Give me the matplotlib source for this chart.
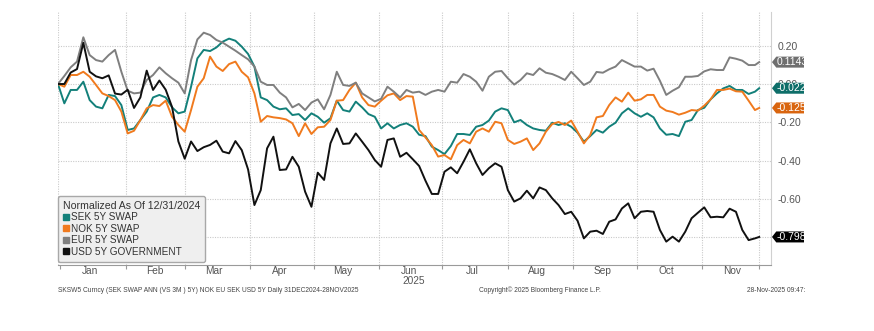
import numpy as np
import pandas as pd
import matplotlib
matplotlib.use('Agg')
import matplotlib.pyplot as plt
from matplotlib.lines import Line2D
from matplotlib.patches import Polygon

plt.rcParams['font.family'] = ['Liberation Sans', 'DejaVu Sans']

# sampled every 3 days from 31 Dec 2024, last point 28 Nov 2025
dates = list(pd.date_range('2024-12-31', periods=111, freq='3D')) + [pd.Timestamp('2025-11-28')]

sek = [0, -0.101, -0.031, -0.031, 0.012, -0.084, -0.118, -0.127, -0.057, -0.063, -0.110, -0.240,
       -0.232, -0.188, -0.144, -0.070, -0.057, -0.070, -0.122, -0.153, -0.144, -0.014, 0.134, 0.178,
       0.172, 0.191, 0.221, 0.237, 0.226, 0.195, 0.157, 0.091, -0.070, -0.084, -0.118, -0.132,
       -0.127, -0.162, -0.157, -0.188, -0.153, -0.171, -0.202, -0.179, -0.087, -0.136,
       -0.144, -0.092, -0.122, -0.157, -0.171, -0.232, -0.205, -0.232, -0.214, -0.205, -0.223,
       -0.265, -0.272, -0.327, -0.345, -0.366, -0.324, -0.261, -0.261, -0.266, -0.223, -0.214,
       -0.191, -0.144, -0.127, -0.136, -0.200, -0.188, -0.214, -0.232, -0.240, -0.244, -0.202,
       -0.214, -0.205, -0.223, -0.254, -0.301, -0.272, -0.240, -0.254, -0.223, -0.202, -0.153,
       -0.127, -0.153, -0.171, -0.153, -0.174, -0.232, -0.265, -0.261, -0.272, -0.197, -0.188,
       -0.136, -0.124, -0.080, -0.049, -0.023, -0.010, -0.031, -0.031, -0.052, -0.040, -0.022]

nok = [0, -0.014, 0.047, 0.047, 0.064, 0.038, -0.005, -0.049, -0.063, -0.084, -0.144, -0.258,
       -0.244, -0.188, -0.127, -0.110, -0.115, -0.087, -0.171, -0.214, -0.249, -0.136, -0.014, 0.030,
       0.143, 0.091, 0.068, 0.104, 0.117, 0.064, 0.035, -0.049, -0.197, -0.167, -0.174, -0.178,
       -0.185, -0.205, -0.272, -0.205, -0.261, -0.226, -0.223, -0.188, -0.087, -0.084,
       -0.031, 0.007, -0.070, -0.110, -0.118, -0.087, -0.059, -0.049, -0.084, -0.063, -0.066,
       -0.240, -0.279, -0.319, -0.379, -0.371, -0.393, -0.319, -0.292, -0.310, -0.249, -0.232,
       -0.249, -0.197, -0.205, -0.292, -0.313, -0.301, -0.284, -0.345, -0.310, -0.249, -0.209,
       -0.198, -0.214, -0.191, -0.249, -0.310, -0.266, -0.174, -0.167, -0.110, -0.070, -0.092,
       -0.045, -0.087, -0.080, -0.057, -0.057, -0.118, -0.139, -0.146, -0.160, -0.150, -0.136,
       -0.139, -0.113, -0.080, -0.031, -0.031, -0.024, -0.038, -0.040, -0.087, -0.136, -0.125]

eur = [0, 0.042, 0.087, 0.117, 0.244, 0.151, 0.125, 0.117, 0.151, 0.178, 0.064, -0.035,
       -0.049, -0.045, 0.021, 0.047, 0.087, 0.056, 0.030, 0.007, -0.049, 0.125, 0.233, 0.268,
       0.256, 0.230, 0.216, 0.195, 0.174, 0.151, 0.129, 0.091, 0.012, -0.005, -0.005, -0.045,
       -0.070, -0.122, -0.104, -0.136, -0.097, -0.080, -0.132, -0.057, 0.064, -0.005,
       -0.010, 0.007, -0.049, -0.070, -0.091, -0.077, -0.014, -0.040, -0.070, -0.031, -0.045,
       -0.040, -0.057, -0.040, -0.031, -0.040, 0.012, 0.007, 0.052, 0.038, 0.012, -0.035,
       0.038, 0.064, 0.068, 0.030, -0.003, 0.021, 0.056, 0.047, 0.082, 0.059, 0.052,
       0.038, 0.021, 0.064, 0.030, -0.005, 0.012, 0.063, 0.059, 0.077, 0.091, 0.125,
       0.108, 0.091, 0.091, 0.070, 0.080, 0.017, -0.057, -0.035, -0.017, 0.038, 0.038,
       0.042, 0.066, 0.077, 0.073, 0.073, 0.139, 0.132, 0.122, 0.099, 0.099, 0.1143]

usd = [0, 0.000, 0.060, 0.078, 0.215, 0.064, 0.040, 0.030, 0.045, -0.050, -0.055, -0.030,
       -0.125, -0.070, 0.070, -0.031, 0.018, -0.030, -0.120, -0.300, -0.390, -0.300, -0.350, -0.330,
       -0.318, -0.296, -0.353, -0.362, -0.298, -0.345, -0.446, -0.632, -0.554, -0.336, -0.275,
       -0.449, -0.446, -0.380, -0.432, -0.562, -0.641, -0.463, -0.501, -0.310, -0.232, -0.313,
       -0.310, -0.258, -0.301, -0.345, -0.397, -0.432, -0.292, -0.284, -0.380, -0.359, -0.393,
       -0.428, -0.505, -0.574, -0.574, -0.458, -0.435, -0.466, -0.406, -0.341, -0.414, -0.475,
       -0.440, -0.414, -0.432, -0.554, -0.614, -0.597, -0.557, -0.597, -0.540, -0.554, -0.597,
       -0.632, -0.679, -0.667, -0.714, -0.806, -0.771, -0.766, -0.783, -0.719, -0.707, -0.650,
       -0.623, -0.701, -0.667, -0.663, -0.667, -0.762, -0.823, -0.797, -0.823, -0.771, -0.701,
       -0.672, -0.644, -0.696, -0.693, -0.696, -0.651, -0.667, -0.762, -0.815, -0.806, -0.7985]

names = ['SEK 5Y SWAP', 'NOK 5Y SWAP', 'EUR 5Y SWAP', 'USD 5Y GOVERNMENT']
colors = ['#13807a', '#f07a1e', '#7f7f7f', '#111111']
tag_colors = ['#0e6e69', '#d9650f', '#6f6f6f', '#000000']
tag_text = ['-0.022', '-0.125', '0.1143', '-0.7985']
yticks = [0.2, 0.0, -0.2, -0.4, -0.6, -0.8]
ytick_labels = ['0.20', '0.00', '-0.20', '-0.40', '-0.60', '']  # -0.80 sits under the black tag
months = ['Jan', 'Feb', 'Mar', 'Apr', 'May', 'Jun', 'Jul', 'Aug', 'Sep', 'Oct', 'Nov']

W, H = 874, 331
fig = plt.figure(figsize=(W / 100, H / 100), dpi=100)
ax = fig.add_axes([58 / W, 1 - 265 / H, 713 / W, 253 / H])

series = [sek, nok, eur, usd]
for i in [2, 3, 1, 0]:
    ax.plot(dates, series[i], color=colors[i], lw=1.4, zorder=3 + i * 0.1)

x0 = pd.Timestamp('2024-12-31')
ax.set_xlim(x0, x0 + pd.Timedelta(days=337.6))
ax.set_ylim(-0.945, 0.376)

# dotted grid
for y in yticks:
    ax.axhline(y, color='#cacaca', lw=0.8, ls=(0, (1, 1.2)), zorder=1)
month_starts = [pd.Timestamp(2025, m, 1) for m in range(1, 12)]
for d in month_starts[1:] + [x0, pd.Timestamp('2025-11-28')]:
    ax.axvline(d, color='#cacaca', lw=0.8, ls=(0, (1, 1.2)), zorder=1)

for s in ['top', 'left']:
    ax.spines[s].set_visible(False)
ax.spines['bottom'].set_color('#9a9a9a')
ax.spines['right'].set_color('#d0d0d0')

ax.yaxis.tick_right()
ax.set_yticks(yticks)
ax.set_yticklabels(ytick_labels)
ax.tick_params(axis='y', length=0, pad=5, labelsize=7.5, labelcolor='#555555')

# month ticks at boundaries, labels centred in the month
ax.set_xticks(month_starts + [pd.Timestamp('2025-11-28')])
ax.set_xticklabels([])
ax.tick_params(axis='x', length=3, color='#9a9a9a', direction='out')
for m, lab in zip(range(1, 12), months):
    mid = pd.Timestamp(2025, m, 1) + pd.Timedelta(days=14)
    xf = ax.transData.transform((mdates_x := matplotlib.dates.date2num(mid), 0))[0] / W
    fig.text(xf, 1 - 270.5 / H, lab, ha='center', va='center', fontsize=7.3, color='#555555')
fig.text(414 / W, 1 - 281.5 / H, '2025', ha='center', va='center', fontsize=7.3, color='#555555')

# legend
handles = [Line2D([], [], marker='s', ls='', color=c, markersize=5) for c in colors]
leg = ax.legend(handles, names, title='Normalized As Of 12/31/2024', loc='lower left',
                bbox_to_anchor=(0.0, 0.012), borderaxespad=0, fontsize=7.2, title_fontsize=7.6,
                frameon=True, fancybox=True, alignment='left', handlelength=0.6,
                handletextpad=0.2, labelspacing=0.15, borderpad=0.5)
leg.get_frame().set_facecolor('#efefef')
leg.get_frame().set_edgecolor('#a8a8a8')
leg.get_frame().set_alpha(1)
leg.get_title().set_color('#333333')
for t in leg.get_texts():
    t.set_color('#333333')
leg.set_zorder(10)

# value tags on the right edge
tax = fig.add_axes([771 / W, 1 - 265 / H, 33 / W, 253 / H], zorder=5)
tax.set_ylim(ax.get_ylim())
tax.set_xlim(0, 1)
tax.axis('off')
hh = 5.5 / 191.5
for i in range(4):
    v = series[i][-1]
    poly = Polygon([[0.03, v], [0.16, v + hh], [1.2, v + hh], [1.2, v - hh], [0.16, v - hh]],
                   closed=True, facecolor=tag_colors[i], edgecolor='none')
    tax.add_patch(poly)
    tax.text(0.17, v, tag_text[i], color='white', fontsize=7.5, va='center', ha='left',
             clip_on=True)

# footer
fig.text(58 / W, 1 - 290 / H,
         'SKSW5 Curncy (SEK SWAP ANN (VS 3M ) 5Y) NOK EU SEK USD 5Y Daily 31DEC2024-28NOV2025',
         fontsize=4.8, color='#444444', va='center', ha='left')
fig.text(479 / W, 1 - 290 / H, 'Copyright\u00a9 2025 Bloomberg Finance L.P.',
         fontsize=4.8, color='#444444', va='center', ha='left')
fig.text(747 / W, 1 - 290 / H, '28-Nov-2025 09:47:', fontsize=4.8, color='#444444',
         va='center', ha='left')

fig.savefig('out.png', dpi=100, facecolor='white')
